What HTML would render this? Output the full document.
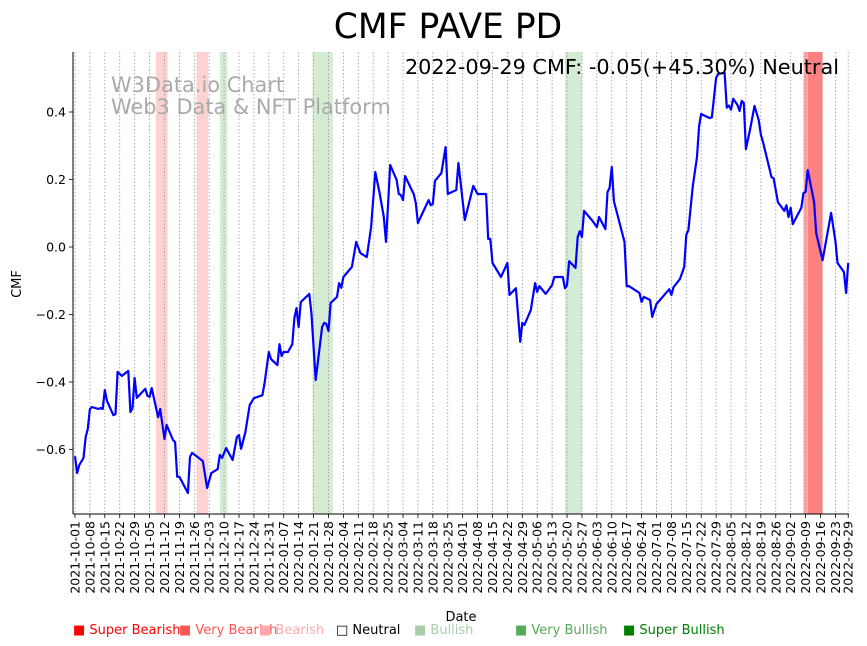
<!DOCTYPE html>
<html><head><meta charset="utf-8"><style>
html,body{margin:0;padding:0;background:#fff;}
svg{display:block;font-family:"DejaVu Sans","Liberation Sans",sans-serif;}
</style></head><body>
<svg id="chart" width="867" height="646" viewBox="0 0 867 646" xmlns="http://www.w3.org/2000/svg">
<text x="448" y="38" font-size="34.5" text-anchor="middle">CMF PAVE PD</text>
<g id="bands"></g>
<g id="grid"></g>
<text x="111" y="92" font-size="20.9" fill="#aaa">W3Data.io Chart</text>
<text x="111" y="114" font-size="20.9" fill="#aaa">Web3 Data &amp; NFT Platform</text>
<g id="series"></g>
<text x="839" y="74" font-size="20.8" text-anchor="end">2022-09-29 CMF: -0.05(+45.30%) Neutral</text>
<g id="axes"></g>
<text transform="translate(21,284) rotate(-90)" font-size="13" text-anchor="middle">CMF</text>
<text x="461" y="621" font-size="13" text-anchor="middle">Date</text>
<g font-size="13">
<text x="73" y="634" fill="#ff0000">■ Super Bearish</text>
<text x="179" y="634" fill="#ff5555">■ Very Bearish</text>
<text x="259" y="634" fill="#ffaaaa">■ Bearish</text>
<text x="336" y="634" fill="#000">□ Neutral</text>
<text x="414" y="634" fill="#aaccaa">■ Bullish</text>
<text x="515" y="634" fill="#55aa55">■ Very Bullish</text>
<text x="623" y="634" fill="#008000">■ Super Bullish</text>
</g>
</svg>
<script>
const days=[0,1,2,4,5,6,7,8,11,12,13,14,15,18,19,20,22,25,26,27,28,29,33,34,35,36,39,40,42,43,46,47,48,49,53,54,55,60,62,64,67,68,69,71,74,76,77,78,80,82,84,88,89,91,92,95,96,97,98,100,102,103,104,105,106,110,111,113,116,117,118,119,120,123,124,125,126,130,132,134,137,139,141,143,145,146,148,151,152,153,154,155,159,160,161,166,167,168,169,172,174,175,179,180,183,187,189,193,194,195,196,200,203,204,207,209,210,211,214,216,217,218,221,224,225,229,230,231,232,235,236,237,238,239,243,245,246,249,250,251,252,253,258,259,260,265,266,267,270,271,273,279,280,281,284,286,287,288,290,292,293,294,298,299,301,302,305,306,307,308,309,311,312,313,314,315,317,319,321,322,323,327,328,330,333,334,335,336,337,341,342,343,344,347,348,351,355,357,358,361,362,363];
const cmfValues=[-0.62,-0.67,-0.646,-0.625,-0.563,-0.539,-0.48,-0.474,-0.48,-0.477,-0.48,-0.424,-0.456,-0.498,-0.495,-0.37,-0.382,-0.367,-0.489,-0.477,-0.388,-0.447,-0.42,-0.441,-0.444,-0.418,-0.504,-0.48,-0.569,-0.527,-0.572,-0.578,-0.681,-0.681,-0.729,-0.622,-0.61,-0.634,-0.714,-0.67,-0.658,-0.616,-0.625,-0.596,-0.631,-0.563,-0.557,-0.598,-0.548,-0.468,-0.448,-0.439,-0.403,-0.311,-0.332,-0.35,-0.288,-0.323,-0.311,-0.311,-0.288,-0.21,-0.181,-0.237,-0.163,-0.139,-0.196,-0.394,-0.237,-0.225,-0.228,-0.249,-0.166,-0.148,-0.107,-0.121,-0.089,-0.059,0.015,-0.018,-0.03,0.059,0.222,0.16,0.089,0.015,0.243,0.199,0.157,0.154,0.139,0.21,0.157,0.13,0.071,0.139,0.124,0.127,0.196,0.219,0.296,0.157,0.169,0.249,0.08,0.181,0.157,0.157,0.024,0.024,-0.047,-0.089,-0.047,-0.142,-0.122,-0.281,-0.225,-0.231,-0.187,-0.107,-0.133,-0.116,-0.139,-0.113,-0.089,-0.089,-0.122,-0.113,-0.042,-0.062,0.03,0.047,0.03,0.107,0.077,0.059,0.089,0.053,0.163,0.175,0.237,0.136,0.015,-0.116,-0.116,-0.136,-0.163,-0.148,-0.157,-0.207,-0.169,-0.125,-0.142,-0.119,-0.095,-0.059,0.036,0.05,0.178,0.267,0.359,0.394,0.382,0.385,0.501,0.513,0.516,0.413,0.419,0.407,0.439,0.421,0.403,0.433,0.427,0.29,0.35,0.418,0.376,0.332,0.311,0.207,0.204,0.133,0.107,0.124,0.089,0.116,0.068,0.116,0.16,0.163,0.228,0.133,0.041,-0.039,0.101,0.018,-0.047,-0.074,-0.136,-0.047];
const bandStart=[38,57,68,111.5,230,342,344];
const bandEnd=[43.5,62.5,71.5,121,238,344,351];
const bandColor=['#ffd2d2','#ffd2d2','#d4ebd4','#d4ebd4','#d4ebd4','#f8a8a8','#ff8080'];
const yTicks=[-0.6,-0.4,-0.2,0.0,0.2,0.4];
const yTickLabels=['−0.6','−0.4','−0.2','0.0','0.2','0.4'];
const xTickDays=[0,7,14,21,28,35,42,49,56,63,70,77,84,91,98,105,112,119,126,133,140,147,154,161,168,175,182,189,196,203,210,217,224,231,238,245,252,259,266,273,280,287,294,301,308,315,322,329,336,343,350,357,363];
const NS='http://www.w3.org/2000/svg';
const X0=75,PXD=2.13,Y0=247,PXV=337.5,TOP=52,BOT=514,LEFT=73,RIGHT=849;
function xs(d){return X0+d*PXD;}
function ys(v){return Y0-v*PXV;}
function mk(tag,attrs,parent){const e=document.createElementNS(NS,tag);for(const k in attrs)e.setAttribute(k,attrs[k]);parent.appendChild(e);return e;}
const bands=document.getElementById('bands'),grid=document.getElementById('grid'),series=document.getElementById('series'),axes=document.getElementById('axes');
for(let i=0;i<bandStart.length;i++){
 const r=mk('rect',{x:xs(bandStart[i]),y:TOP,width:xs(bandEnd[i])-xs(bandStart[i]),height:BOT-TOP,fill:bandColor[i]},bands);
 
 
}
const start=new Date(Date.UTC(2021,9,1));
for(let w=0;w<xTickDays.length;w++){
 const d=xTickDays[w],x=xs(d);
 const g=mk('line',{x1:x,y1:TOP,x2:x,y2:BOT,stroke:'#999','stroke-width':0.8,'stroke-dasharray':'1.5,2'},grid);
 
 
 const t=mk('line',{x1:x,y1:BOT,x2:x,y2:BOT+4,stroke:'#000','stroke-width':0.8},axes);
 
 
 const dt=new Date(start.getTime()+d*86400000);
 const lbl=dt.toISOString().slice(0,10);
 const tx=mk('text',{transform:'translate('+(x+4.5)+','+(BOT+7)+') rotate(-90)','font-size':12.5,'text-anchor':'end'},axes);
 tx.textContent=lbl;
 
 
}
for(let i=0;i<yTicks.length;i++){
 const y=ys(yTicks[i]);
 const t=mk('line',{x1:LEFT-4,y1:y,x2:LEFT,y2:y,stroke:'#000','stroke-width':0.8},axes);
 
 
 const tx=mk('text',{x:LEFT-7,y:y+4.5,'font-size':12.5,'text-anchor':'end'},axes);
 tx.textContent=yTickLabels[i];
 
 
}
const sp1=mk('line',{x1:LEFT,y1:TOP,x2:LEFT,y2:BOT,stroke:'#000','stroke-width':1},axes);


const sp2=mk('line',{x1:LEFT,y1:BOT,x2:RIGHT,y2:BOT,stroke:'#000','stroke-width':1},axes);


let p='';
for(let i=0;i<days.length;i++){p+=(i?'L':'M')+xs(days[i]).toFixed(1)+','+ys(cmfValues[i]).toFixed(1);}
const line=mk('path',{d:p,fill:'none',stroke:'#0000ff','stroke-width':2.2,'stroke-linejoin':'round'},series);


</script>
</body></html>
